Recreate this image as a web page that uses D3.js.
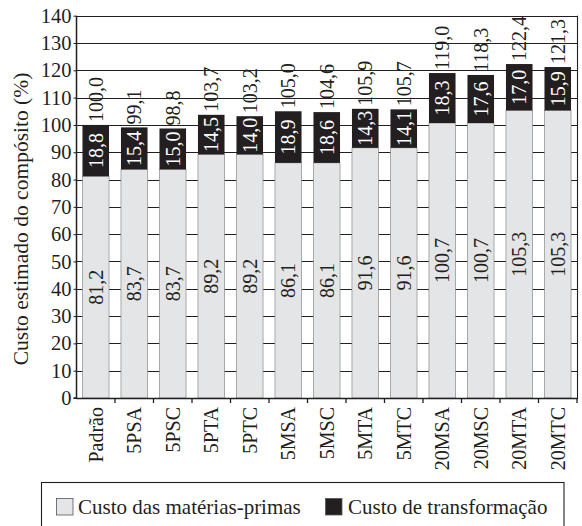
<!DOCTYPE html>
<html>
<head>
<meta charset="utf-8">
<script src="https://cdn.jsdelivr.net/npm/d3@7"></script>
<style>
  body { margin: 0; background: #fff; }
  text { font-family: "Liberation Serif", "DejaVu Serif", serif; fill: #231f20; }
</style>
</head>
<body>
<svg id="chart" width="582" height="526"></svg>
<script>
const categories = ["Padrão", "5PSA", "5PSC", "5PTA", "5PTC", "5MSA", "5MSC", "5MTA", "5MTC", "20MSA", "20MSC", "20MTA", "20MTC"];
const rawCost = [81.2, 83.7, 83.7, 89.2, 89.2, 86.1, 86.1, 91.6, 91.6, 100.7, 100.7, 105.3, 105.3];
const transCost = [18.8, 15.4, 15.0, 14.5, 14.0, 18.9, 18.6, 14.3, 14.1, 18.3, 17.6, 17.0, 15.9];
const totals = [100.0, 99.1, 98.8, 103.7, 103.2, 105.0, 104.6, 105.9, 105.7, 119.0, 118.3, 122.4, 121.3];
const yTicks = [0, 10, 20, 30, 40, 50, 60, 70, 80, 90, 100, 110, 120, 130, 140];
const seriesNames = ["Custo das matérias-primas", "Custo de transformação"];

const ink = "#231f20";
const grey = "#e4e5e6";
const fmt = v => d3.format(".1f")(v).replace(".", ",");

const margin = {left: 76.5, right: 5, top: 15.7, bottom: 128};
const W = 582, H = 526;
const svg = d3.select("#chart");

const x = d3.scaleBand()
  .domain(categories)
  .range([margin.left, W - margin.right])
  .paddingInner(0.31)
  .paddingOuter(0.155);

const y = d3.scaleLinear()
  .domain([0, 140])
  .range([H - margin.bottom, margin.top]);

// grid lines (behind bars)
svg.append("g")
  .selectAll("line")
  .data(yTicks)
  .join("line")
    .attr("x1", margin.left)
    .attr("x2", W - margin.right)
    .attr("y1", d => Math.round(y(d)) + 0.5)
    .attr("y2", d => Math.round(y(d)) + 0.5)
    .attr("stroke", ink)
    .attr("stroke-width", 1.1);

// right border
svg.append("line")
  .attr("x1", W - margin.right + 0.5).attr("x2", W - margin.right + 0.5)
  .attr("y1", y(140)).attr("y2", y(0))
  .attr("stroke", ink).attr("stroke-width", 1.1);

const bars = svg.append("g");

// raw material segment
bars.selectAll("rect.raw")
  .data(categories)
  .join("rect")
    .attr("class", "raw")
    .attr("x", d => x(d))
    .attr("width", x.bandwidth())
    .attr("y", (d, i) => y(rawCost[i]))
    .attr("height", (d, i) => y(0) - y(rawCost[i]))
    .attr("fill", grey)
    .attr("stroke", "#7a7a7a")
    .attr("stroke-width", 0.6);

// transformation segment
bars.selectAll("rect.trans")
  .data(categories)
  .join("rect")
    .attr("class", "trans")
    .attr("x", d => x(d))
    .attr("width", x.bandwidth())
    .attr("y", (d, i) => y(rawCost[i] + transCost[i]))
    .attr("height", (d, i) => y(rawCost[i]) - y(rawCost[i] + transCost[i]))
    .attr("fill", ink);

const cx = d => x(d) + x.bandwidth() / 2;

function vtext(g, px, py, str, anchor, color) {
  g.append("text")
    .attr("transform", `translate(${px},${py}) rotate(-90)`)
    .attr("text-anchor", anchor)
    .attr("dy", "0.34em")
    .attr("font-size", 20)
    .style("fill", color)
    .text(str);
}

const labels = svg.append("g");
categories.forEach((c, i) => {
  vtext(labels, cx(c), (y(0) + y(rawCost[i])) / 2, fmt(rawCost[i]), "middle", ink);
  vtext(labels, cx(c), (y(rawCost[i]) + y(rawCost[i] + transCost[i])) / 2, fmt(transCost[i]), "middle", "#fff");
  vtext(labels, cx(c), y(rawCost[i] + transCost[i]) - 3, fmt(totals[i]), "start", ink);
});

// y axis
const yAxis = svg.append("g")
  .attr("transform", `translate(${margin.left},0)`)
  .call(d3.axisLeft(y).tickValues(yTicks).tickSize(3).tickPadding(2));
yAxis.select(".domain").attr("stroke", ink).attr("stroke-width", 1.5)
  .attr("d", `M-3,${y(0)}H0V${y(140)}`);
yAxis.selectAll(".tick line").attr("stroke", ink);
yAxis.selectAll(".tick text").attr("font-size", 20.5)
  .style("font-family", "Liberation Serif").style("fill", ink);

// bottom axis line with ticks at band boundaries
const bottom = svg.append("g");
bottom.append("line")
  .attr("x1", margin.left).attr("x2", W - margin.right + 1)
  .attr("y1", y(0) + 0.5).attr("y2", y(0) + 0.5)
  .attr("stroke", ink).attr("stroke-width", 1.5);
const step = x.step();
bottom.selectAll("line.tk")
  .data(d3.range(1, categories.length + 1))
  .join("line")
    .attr("class", "tk")
    .attr("x1", i => margin.left + i * step)
    .attr("x2", i => margin.left + i * step)
    .attr("y1", y(0))
    .attr("y2", y(0) + 5)
    .attr("stroke", ink)
    .attr("stroke-width", 1.3);

bottom.selectAll("text")
  .data(categories)
  .join("text")
    .attr("transform", d => `translate(${cx(d)},${y(0) + 9}) rotate(-90)`)
    .attr("text-anchor", "end")
    .attr("dy", "0.34em")
    .attr("font-size", 20)
    .text(d => d);

// y axis title
svg.append("text")
  .attr("transform", `translate(21,219) rotate(-90)`)
  .attr("text-anchor", "middle")
  .attr("dy", "0.34em")
  .attr("font-size", 21.5)
  .text("Custo estimado do compósito (%)");

// legend
const lg = svg.append("g");
lg.append("rect")
  .attr("x", 41.5).attr("y", 482.5)
  .attr("width", 522.5).attr("height", 60)
  .attr("fill", "none").attr("stroke", ink).attr("stroke-width", 1.1);
const legendItems = [
  {name: seriesNames[0], fill: grey, sx: 56.5, tx: 78},
  {name: seriesNames[1], fill: ink, sx: 325.5, tx: 348}
];
legendItems.forEach(it => {
  lg.append("rect")
    .attr("x", it.sx).attr("y", 498.5)
    .attr("width", 16.5).attr("height", 16.5)
    .attr("fill", it.fill).attr("stroke", "#555").attr("stroke-width", 0.8);
  lg.append("text")
    .attr("x", it.tx).attr("y", 506.5)
    .attr("dy", "0.34em")
    .attr("font-size", 21)
    .text(it.name);
});
</script>
</body>
</html>
